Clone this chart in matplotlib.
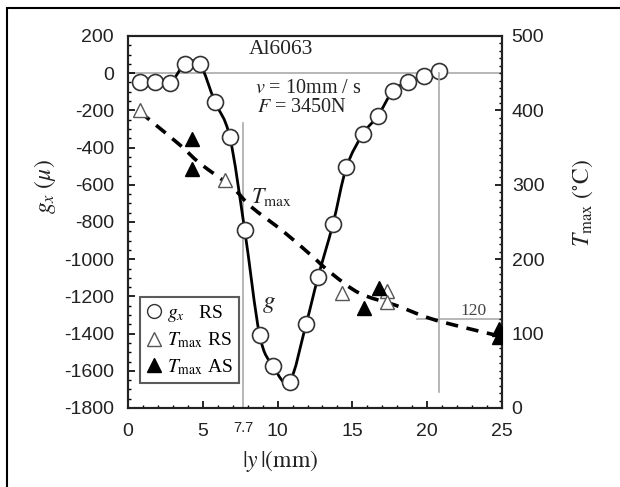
import matplotlib
matplotlib.use("Agg")
import matplotlib.pyplot as plt
from matplotlib.path import Path
from matplotlib.patches import PathPatch, Rectangle
from matplotlib.lines import Line2D
import numpy as np

plt.rcParams['font.family'] = ['Liberation Sans', 'DejaVu Sans']
plt.rcParams['mathtext.fontset'] = 'stix'
plt.rcParams['axes.unicode_minus'] = False

# g_x residual stress, retreating side (RS)
y_g = [0.8, 1.8, 2.8, 3.8, 4.8, 5.8, 6.8, 7.8, 8.8, 9.7, 10.8, 11.9, 12.7,
       13.7, 14.6, 15.7, 16.7, 17.7, 18.7, 19.8, 20.8]
g_x = [-46, -46, -54, 48, 48, -153, -341, -843, -1408, -1574, -1659, -1350,
       -1097, -811, -506, -327, -230, -96, -46, -15, 13]

# Tmax measured, RS (open) and AS (filled)
y_rs = [0.8, 6.5, 14.3, 17.3, 17.3]
t_rs = [400, 306, 154, 157, 143]
y_as = [4.3, 4.3, 15.8, 16.8, 24.8, 24.8]
t_as = [361, 321, 134, 161, 106, 96]

# Tmax trend curve (dashed)
y_tfit = [0.8, 1.7, 3.5, 4.8, 7.0, 8.2, 10.4, 12.2, 13.6, 15.5, 17.9, 20.1, 22.3, 25.0]
t_tfit = [398, 383, 353, 329, 296, 271, 237, 206, 181, 154, 138, 121, 109, 96]

serif = ['Liberation Serif', 'DejaVu Serif']
ink = '#222222'
grey = '#aaaaaa'


def smooth_path(xs, ys):
    # Catmull-Rom through the points, drawn as cubic Bezier segments
    p = np.column_stack([xs, ys]).astype(float)
    verts = [p[0]]
    codes = [Path.MOVETO]
    n = len(p)
    for i in range(n - 1):
        p0 = p[i - 1] if i > 0 else p[i]
        p3 = p[i + 2] if i + 2 < n else p[i + 1]
        c1 = p[i] + (p[i + 1] - p0) / 6.0
        c2 = p[i + 1] - (p3 - p[i]) / 6.0
        verts += [c1, c2, p[i + 1]]
        codes += [Path.CURVE4] * 3
    return Path(verts, codes)


fig = plt.figure(figsize=(6.2, 4.87), dpi=100)
ax = fig.add_axes([128 / 620, 1 - 408 / 487, 374 / 620, 372 / 487])
ax2 = ax.twinx()

ax.set_xlim(0, 25)
ax.set_ylim(-1800, 200)
ax2.set_ylim(0, 500)

# reference lines
ax.axhline(0, color=grey, lw=1.2, zorder=1)
ax.plot([7.7, 7.7], [-1800, -270], color=grey, lw=1.2, zorder=1)
ax2.plot([20.8, 20.8], [22, 450], color=grey, lw=1.2, zorder=1)
ax2.plot([19.3, 25], [120, 120], color=grey, lw=1.2, zorder=1)

# curves
ax.add_patch(PathPatch(smooth_path(y_g, g_x), fill=False, ec='black', lw=2.0, zorder=3))
ax2.add_patch(PathPatch(smooth_path(y_tfit, t_tfit), fill=False, ec='black', lw=2.6,
                        linestyle=(0, (3.4, 2.4)), zorder=3))

ax.plot(y_g, g_x, 'o', ms=11.5, mfc='white', mec='#333333', mew=1.2, zorder=4)
ax2.plot(y_rs, t_rs, '^', ms=10.5, mfc='white', mec='#555555', mew=1.0, zorder=4)
ax2.plot(y_as, t_as, '^', ms=10.5, mfc='black', mec='black', zorder=4)

# ticks
ax.set_xticks([0, 5, 10, 15, 20, 25])
ax.set_xticks(np.arange(0, 26, 1), minor=True)
ax.set_yticks(np.arange(-1800, 201, 200))
ax.set_yticks(np.arange(-1800, 201, 50), minor=True)
ax2.set_yticks(np.arange(0, 501, 100))
ax2.set_yticks(np.arange(0, 501, 10), minor=True)
for a in (ax, ax2):
    a.tick_params(which='major', direction='in', length=5, width=1.2,
                  labelsize=14, labelcolor=ink)
    a.tick_params(which='minor', direction='in', length=2.5, width=1.0)
ax.tick_params(axis='y', which='major', pad=10)
ax.tick_params(axis='x', which='major', pad=11)
ax2.tick_params(axis='y', which='major', pad=7)
ax.tick_params(top=False, right=False, which='both')
ax2.tick_params(left=False, top=False, which='both')
for a in (ax, ax2):
    for s in a.spines.values():
        s.set_linewidth(1.5)
        s.set_color('#222222')

ax.text(7.7, -1905, '7.7', ha='center', va='center', fontsize=10.5, color=ink)

# labels
fig.text(280 / 620, 1 - 461 / 487, r'$|y\,|\mathrm{(mm)}$', ha='center', va='center',
         fontsize=17, color=ink)
fig.text(45 / 620, 1 - 187 / 487, r'$g_x\ (\mu)$', rotation=90, ha='center', va='center',
         fontsize=17, color=ink)
fig.text(583 / 620, 1 - 203 / 487, r'$T_{\mathrm{max}}\ (^{\circ}\mathrm{C})$', rotation=90,
         ha='center', va='center', fontsize=17, color=ink)

# annotations
ax.text(10.2, 125, 'Al6063', ha='center', va='center', fontsize=15.5, family=serif, color=ink)
ax.text(8.5, -80, r'$v$ = 10mm / s', ha='left', va='center', fontsize=14.5, family=serif, color=ink)
ax.text(8.6, -187, r'$F$ = 3450N', ha='left', va='center', fontsize=14.5, family=serif, color=ink)
ax.text(9.6, -666, r'$T_{\mathrm{max}}$', ha='center', va='center', fontsize=16, color=ink)
ax.text(9.4, -1237, r'$g$', ha='center', va='center', fontsize=18, color=ink)
ax2.text(23.1, 131, '120', ha='center', va='center', fontsize=12.5, family=serif, color='#444444')

handles = [
    Line2D([], [], ls='none', marker='o', ms=10, mfc='white', mec='#333333'),
    Line2D([], [], ls='none', marker='^', ms=10, mfc='white', mec='#555555'),
    Line2D([], [], ls='none', marker='^', ms=10, mfc='black', mec='black'),
]
labels = [r'$g_x$   RS', r'$T_{\mathrm{max}}$ RS', r'$T_{\mathrm{max}}$ AS']
leg = ax2.legend(handles, labels, loc='upper left', bbox_to_anchor=(0.032, 0.298),
                 borderaxespad=0, frameon=True, fancybox=False, handlelength=0.8,
                 handletextpad=0.3, labelspacing=0.35, borderpad=0.3,
                 prop={'family': serif, 'size': 14})
leg.get_frame().set_edgecolor('#333333')
leg.get_frame().set_linewidth(1.5)
leg.set_zorder(5)

# outer frame of the original figure
fig.add_artist(Rectangle((7 / 620, -0.2), 1.2, 1.2 - 8 / 487, transform=fig.transFigure,
                         fill=False, ec='black', lw=1.5, clip_on=False))

fig.savefig('out.png', dpi=100)
